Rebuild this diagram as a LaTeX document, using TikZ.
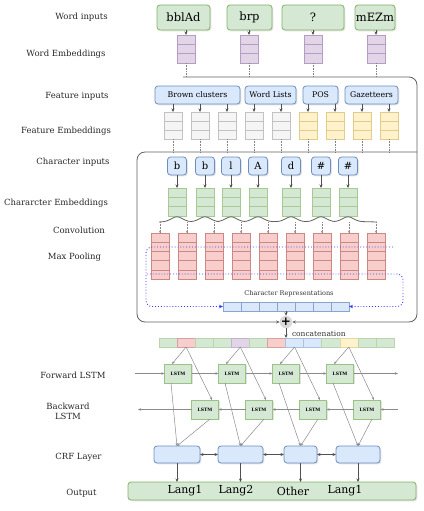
\documentclass[tikz,border=0pt]{standalone}
\usepackage{fontspec}
\setmainfont{DejaVu Serif}
\usetikzlibrary{arrows.meta,shadows,calc}
\definecolor{gfill}{HTML}{D5E8D4}\definecolor{gline}{HTML}{82B366}
\definecolor{pfill}{HTML}{E1D5E7}\definecolor{pline}{HTML}{9673A6}
\definecolor{bfill}{HTML}{DAE8FC}\definecolor{bline}{HTML}{6C8EBF}
\definecolor{yfill}{HTML}{FFF2CC}\definecolor{yline}{HTML}{D6B656}
\definecolor{rfill}{HTML}{F8CECC}\definecolor{rline}{HTML}{B85450}
\definecolor{kfill}{HTML}{F5F5F5}\definecolor{kline}{HTML}{A8A8A8}
\definecolor{arrc}{HTML}{505050}
\definecolor{lstmc}{HTML}{8A8A8A}
\definecolor{dotblue}{HTML}{3D3DF0}

% name, cx, ytop, ncells, ndividers, fill, line, cell height
\newcommand\stackbox[8]{%
  \node[stackcell, fill=#6, draw=#7!70, minimum height=#4*#8, anchor=north] (#1) at (#2,#3) {};
  \foreach \k in {1,...,#5}
    \draw[#7!70, line width=0.6] ([yshift=-\k*#8]#1.north west) -- ([yshift=-\k*#8]#1.north east);
}

\begin{document}
\begin{tikzpicture}[x=1pt,y=-1pt,
  every node/.style={outer sep=0pt},
  shad/.style={drop shadow={opacity=0.22,shadow xshift=1.3pt,shadow yshift=-1.3pt}},
  lab/.style={font=\fontsize{8.5}{10}\selectfont,align=center,text=black!85},
  wordbox/.style={shad,draw=gline,fill=gfill,rounded corners=3,line width=0.8,minimum height=25,font=\fontsize{11.5}{13}\selectfont,inner sep=0},
  featbox/.style={shad,draw=bline,fill=bfill,rounded corners=3,line width=0.8,minimum height=18,font=\fontsize{7.8}{9}\selectfont,inner sep=0},
  charbox/.style={shad,draw=bline,fill=bfill,rounded corners=3,line width=0.8,minimum width=19,minimum height=18,font=\fontsize{10}{12}\selectfont,inner sep=0},
  stackcell/.style={shad,line width=0.6,minimum width=18,inner sep=0},
  cell/.style={line width=0.5,minimum width=18.08,minimum height=9,inner sep=0},
  lstm/.style={shad,draw=gline!80,fill=gfill,line width=0.6,minimum width=27,minimum height=19,font=\fontsize{4.5}{5}\selectfont\bfseries,inner sep=0},
  crf/.style={shad,draw=bline,fill=bfill,rounded corners=3,line width=0.8,minimum height=17,inner sep=0},
  outbox/.style={shad,draw=gline,fill=gfill,rounded corners=3,line width=0.8,inner sep=0},
  outtext/.style={font=\fontsize{11}{13}\selectfont,inner sep=0},
  arr/.style={draw=arrc,line width=0.7,-{Stealth[length=3.5pt,width=3pt]}},
  darr/.style={draw=arrc,line width=0.7,{Stealth[length=3.5pt,width=3pt]}-{Stealth[length=3.5pt,width=3pt]}},
  conn/.style={draw=lstmc,line width=0.5,-{Stealth[length=3pt,width=2.5pt]}},
  dropln/.style={draw=arrc!70,line width=0.6,densely dotted},
  bus/.style={draw=arrc!90,line width=0.8},
  bluedot/.style={draw=dotblue,line width=0.9,dotted,-{Stealth[length=4pt,width=3.5pt]}},
]
\useasboundingbox (0,0) rectangle (423,511);

% ---------- left labels ----------
\node[lab] (l1) at (81.5,17) {Word inputs};
\node[lab] (l2) at (66,54) {Word Embeddings};
\node[lab] (l3) at (77,96) {Feature inputs};
\node[lab] (l4) at (66,131) {Feature Embeddings};
\node[lab] (l5) at (73,162) {Character inputs};
\node[lab] (l6) at (56,203) {Chararcter Embeddings};
\node[lab] (l7) at (79,230) {Convolution};
\node[lab] (l8) at (74.5,257) {Max Pooling};
\node[lab] (l9) at (73,375) {Forward LSTM};
\node[lab] (l10) at (68,411.5) {Backward\\LSTM};
\node[lab] (l11) at (78.5,457) {CRF Layer};
\node[lab] (l12) at (81.5,493) {Output};

% ---------- word inputs ----------
\node[wordbox,minimum width=53] (wi1) at (183.5,17.5) {bblAd};
\node[wordbox,minimum width=45] (wi2) at (249.5,17.5) {brp};
\node[wordbox,minimum width=62] (wi3) at (313,17.5) {?};
\node[wordbox,minimum width=40] (wi4) at (375,17.5) {mEZm};

\stackbox{we1}{186}{35}{3}{2}{pfill}{pline}{9.33}
\stackbox{we2}{249}{35}{3}{2}{pfill}{pline}{9.33}
\stackbox{we3}{313}{35}{3}{2}{pfill}{pline}{9.33}
\stackbox{we4}{376}{35}{3}{2}{pfill}{pline}{9.33}
\foreach \i in {1,...,4}{
  \draw[arr] (we\i.north |- wi\i.south) -- (we\i.north);
}

% ---------- feature inputs ----------
\node[featbox,minimum width=85] (fi1) at (197.5,95) {Brown clusters};
\node[featbox,minimum width=51] (fi2) at (270.5,95) {Word Lists};
\node[featbox,minimum width=35] (fi3) at (320.5,95) {POS};
\node[featbox,minimum width=53] (fi4) at (371.5,95) {Gazetteers};

\stackbox{fe1}{173}{112}{3}{2}{kfill}{kline}{9}
\stackbox{fe2}{200}{112}{3}{2}{kfill}{kline}{9}
\stackbox{fe3}{227}{112}{3}{2}{kfill}{kline}{9}
\stackbox{fe4}{254}{112}{3}{2}{kfill}{kline}{9}
\stackbox{fe5}{281}{112}{3}{2}{kfill}{kline}{9}
\stackbox{fe6}{308}{112}{3}{2}{yfill}{yline}{9}
\stackbox{fe7}{335}{112}{3}{2}{yfill}{yline}{9}
\stackbox{fe8}{362}{112}{3}{2}{yfill}{yline}{9}
\stackbox{fe9}{389}{112}{3}{2}{yfill}{yline}{9}
\foreach \i/\s in {1/1,2/1,3/1,4/2,5/2,6/3,7/3,8/4,9/4}{
  \draw[arr] (fe\i.north |- fi\s.south) -- (fe\i.north);
}

% ---------- buses ----------
\coordinate (wb) at (183,77);
\coordinate (fb) at (417,152);
\node[circle,fill=black!15,minimum size=7,inner sep=0,font=\fontsize{12}{12}\selectfont\bfseries] (plus) at (286,322) {+};
\foreach \i in {1,...,4}{
  \draw[dropln] (we\i.south) -- (we\i.south |- wb);
}
\foreach \i in {1,...,9}{
  \draw[dropln] (fe\i.south) -- (fe\i.south |- fb);
}
\draw[bus,rounded corners=8,-{Stealth[length=3.5pt,width=3pt]}] (wb) -| (417,322) -- (plus.east);
\draw[bus,rounded corners=8,-{Stealth[length=3.5pt,width=3pt]}] (fb) -- (137,152) |- (plus.west);

% ---------- character inputs ----------
\foreach \i/\x/\t in {1/177/b,2/205/b,3/231/l,4/258/A,5/291/d,6/321/\#,7/348/\#}{
  \node[charbox] (ci\i) at (\x,166) {\t};
}
\stackbox{ce1}{177}{188}{3}{2}{gfill}{gline}{9.33}
\stackbox{ce2}{205}{188}{3}{2}{gfill}{gline}{9.33}
\stackbox{ce3}{231}{188}{3}{2}{gfill}{gline}{9.33}
\stackbox{ce4}{258}{188}{3}{2}{gfill}{gline}{9.33}
\stackbox{ce5}{291}{188}{3}{2}{gfill}{gline}{9.33}
\stackbox{ce6}{321}{188}{3}{2}{gfill}{gline}{9.33}
\stackbox{ce7}{348}{188}{3}{2}{gfill}{gline}{9.33}
\foreach \i in {1,...,7}{
  \draw[arr] (ci\i.south) -- (ce\i.north);
}

% ---------- convolution ----------
\coordinate (convL) at (159,222);
\coordinate (convR) at (377,222);
\draw[bus,rounded corners=3] (convL)
  foreach \j in {1,...,7}{ -- ([xshift=-11pt,yshift=-5.5pt]ce\j.south) -- (ce\j.south) -- ([xshift=11pt,yshift=-5.5pt]ce\j.south)}
  -- (convR);

% ---------- max pooling ----------
\stackbox{mp1}{160}{233}{5}{4}{rfill}{rline}{9.2}
\stackbox{mp2}{187}{233}{5}{4}{rfill}{rline}{9.2}
\stackbox{mp3}{214}{233}{5}{4}{rfill}{rline}{9.2}
\stackbox{mp4}{241}{233}{5}{4}{rfill}{rline}{9.2}
\stackbox{mp5}{268}{233}{5}{4}{rfill}{rline}{9.2}
\stackbox{mp6}{295}{233}{5}{4}{rfill}{rline}{9.2}
\stackbox{mp7}{322}{233}{5}{4}{rfill}{rline}{9.2}
\stackbox{mp8}{349}{233}{5}{4}{rfill}{rline}{9.2}
\stackbox{mp9}{376}{233}{5}{4}{rfill}{rline}{9.2}
\foreach \i in {1,...,9}{
  \draw[dropln,-{Stealth[length=2.2pt,width=2pt]}] (mp\i.north |- convL) -- (mp\i.north);
}

% ---------- character representations ----------
\foreach \i in {1,...,7}{
  \node[cell,shad,fill=bfill,draw=bline!80,minimum width=18] (crb\i) at ({223+18*(\i-0.5)},306.5) {};
}
\node[font=\fontsize{6.5}{7}\selectfont,text=black!80] (crlab) at (289,294) {Character Representations};
\draw[bluedot,rounded corners=6] (393,247) -- (146,247) |- (crb1.west);
\draw[bluedot,rounded corners=6] (147,274) -- (403,274) |- (crb7.east);
\draw[arr] (crb4.south) -- (plus.north);

% ---------- concatenation ----------
\foreach \i/\f/\l in {1/gfill/gline,2/rfill/rline,3/gfill/gline,4/gfill/gline,5/pfill/pline,6/gfill/gline,7/rfill/rline,8/bfill/bline,9/bfill/bline,10/gfill/gline,11/yfill/yline,12/gfill/gline,13/gfill/gline}{
  \node[cell,fill=\f,draw=\l!55] (cc\i) at ({159+18.08*(\i-0.5)},342.5) {};
}
\draw[arr] (plus.south) -- (plus.south |- cc8.north);
\node[font=\fontsize{7.5}{9}\selectfont,anchor=west,inner sep=0,text=black!80] (catlab) at (292,333.5) {concatenation};

% ---------- LSTMs ----------
\foreach \i/\x in {1/178,2/232,3/286,4/340}{
  \node[lstm] (f\i) at (\x,373.5) {LSTM};
}
\foreach \i/\x in {1/205,2/259,3/313,4/367}{
  \node[lstm] (b\i) at (\x,409.5) {LSTM};
}
\coordinate (fL) at (135,373.5);
\coordinate (fR) at (398,373.5);
\coordinate (bL) at (138,409.5);
\coordinate (bR) at (398,409.5);
\draw[conn] (fL) -- (f1);
\draw[conn] (f1) -- (f2);
\draw[conn] (f2) -- (f3);
\draw[conn] (f3) -- (f4);
\draw[conn] (f4) -- (fR);
\draw[conn] (bR) -- (b4);
\draw[conn] (b4) -- (b3);
\draw[conn] (b3) -- (b2);
\draw[conn] (b2) -- (b1);
\draw[conn] (b1) -- (bL);
\foreach \c/\i in {2/1,5/2,8/3,11/4}{
  \draw[conn] (cc\c.south) -- ([xshift=-6pt]f\i.north);
  \draw[conn] (cc\c.south) -- ([xshift=7pt]b\i.north);
}

% ---------- CRF ----------
\node[crf,minimum width=46] (crf1) at (177,454.5) {};
\node[crf,minimum width=45] (crf2) at (240.5,454.5) {};
\node[crf,minimum width=33] (crf3) at (300.5,454.5) {};
\node[crf,minimum width=44] (crf4) at (358,454.5) {};
\foreach \i in {1,...,4}{
  \draw[conn] ([xshift=-7pt]f\i.south) -- (crf\i.north);
  \draw[conn] ([xshift=5pt]b\i.south) -- (crf\i.north);
}
\draw[darr] (crf1) -- (crf2);
\draw[darr] (crf2) -- (crf3);
\draw[darr] (crf3) -- (crf4);

% ---------- output ----------
\node[outbox,minimum width=288,minimum height=18] (out) at (272,491) {};
\node[outtext] (o1) at (185,491) {Lang1};
\node[outtext] (o2) at (236,491) {Lang2};
\node[outtext] (o3) at (293,491) {Other};
\node[outtext] (o4) at (345,491) {Lang1};
\foreach \i in {1,...,4}{
  \draw[arr] (crf\i.south) -- (crf\i.south |- out.north);
}
\end{tikzpicture}
\end{document}
